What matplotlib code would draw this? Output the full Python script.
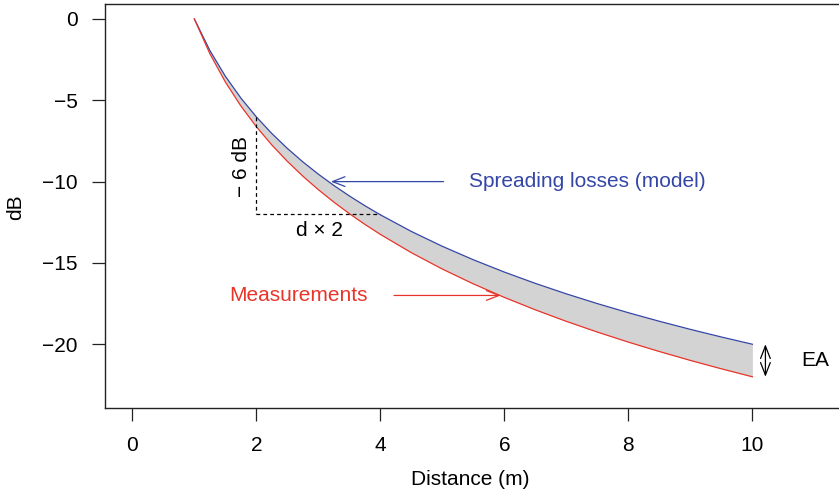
import matplotlib
matplotlib.use("Agg")
import matplotlib.pyplot as plt

# Distance from the source (m)
distance = [1.0, 1.25, 1.5, 1.75, 2.0, 2.25, 2.5, 2.75, 3.0, 3.25, 3.5, 3.75,
            4.0, 4.5, 5.0, 5.5, 6.0, 6.5, 7.0, 7.5, 8.0, 8.5, 9.0, 9.5, 10.0]

# Spreading losses predicted by the model (dB)
model_db = [0.0, -1.938, -3.522, -4.861, -6.021, -7.044, -7.959, -8.787,
            -9.542, -10.238, -10.881, -11.481, -12.041, -13.064, -13.979,
            -14.807, -15.563, -16.258, -16.902, -17.501, -18.062, -18.588,
            -19.085, -19.554, -20.0]

# Measured level (dB)
measured_db = [0.0, -2.132, -3.874, -5.347, -6.623, -7.748, -8.755, -9.666,
               -10.496, -11.262, -11.969, -12.629, -13.245, -14.370, -15.377,
               -16.288, -17.119, -17.884, -18.592, -19.251, -19.868, -20.447,
               -20.994, -21.509, -22.0]

x_ticks = [0, 2, 4, 6, 8, 10]
y_ticks = [0, -5, -10, -15, -20]

BLUE = "#3446a6"
RED = "#e8352b"

plt.rcParams["font.family"] = "Liberation Sans"

fig = plt.figure(figsize=(8.39, 4.92), dpi=100)
ax = fig.add_axes([0.1252, 0.1707, 0.878, 0.8212])

ax.fill_between(distance, model_db, measured_db, color="#d3d3d3", lw=0)
ax.plot(distance, model_db, color=BLUE, lw=0.9)
ax.plot(distance, measured_db, color=RED, lw=0.9)

# -6 dB per doubling of distance
ax.plot([2, 2], [model_db[4], -12], ls=(0, (3, 2.5)), color="black", lw=0.9)
ax.plot([2, 4], [-12, -12], ls=(0, (3, 2.5)), color="black", lw=0.9)
ax.text(1.755, -9.05, "\u2212 6 dB", rotation=90, ha="center", va="center",
        fontsize=15)
ax.text(3.02, -13.0, "d \u00d7 2", ha="center", va="center", fontsize=15)

# Curve labels with arrows
ax.annotate("", xy=(3.2, -10.0), xytext=(5.02, -10.0),
            arrowprops=dict(arrowstyle="->,head_length=0.9,head_width=0.35",
                            color=BLUE, lw=0.9, shrinkA=0, shrinkB=0))
ax.text(5.43, -10.0, "Spreading losses (model)", color=BLUE, ha="left",
        va="center", fontsize=15)

ax.annotate("", xy=(5.94, -17.0), xytext=(4.22, -17.0),
            arrowprops=dict(arrowstyle="->,head_length=0.9,head_width=0.35",
                            color=RED, lw=0.9, shrinkA=0, shrinkB=0))
ax.text(2.68, -17.0, "Measurements", color=RED, ha="center", va="center",
        fontsize=15)

# Excess attenuation
ax.annotate("", xy=(10.21, -20.0), xytext=(10.21, -22.0),
            arrowprops=dict(arrowstyle="<->,head_length=0.9,head_width=0.35",
                            color="black", lw=0.9, shrinkA=0, shrinkB=0))
ax.text(11.01, -21.0, "EA", ha="center", va="center", fontsize=15)

ax.set_xlim(-0.44, 11.44)
ax.set_ylim(-23.92, 0.92)
ax.set_xticks(x_ticks)
ax.set_yticks(y_ticks)
ax.set_yticklabels(["0", "\u22125", "\u221210", "\u221215", "\u221220"],
                   fontsize=15)
ax.set_xticklabels([str(v) for v in x_ticks], fontsize=15)
ax.tick_params(axis="both", direction="out", length=9.5, width=0.9,
               color="#222222")
ax.tick_params(axis="y", pad=10)
ax.tick_params(axis="x", pad=11)
ax.tick_params(top=False, right=False)
for s in ax.spines.values():
    s.set_linewidth(1.0)
    s.set_color("#222222")

ax.set_xlabel("Distance (m)", fontsize=15)
ax.xaxis.set_label_coords(0.5 + (475 - 478.5) / 736.6, -0.1535)
ax.set_ylabel("dB", fontsize=15)
ax.yaxis.set_label_coords(-0.1086, 0.4975)

fig.savefig("out.png", dpi=100)
